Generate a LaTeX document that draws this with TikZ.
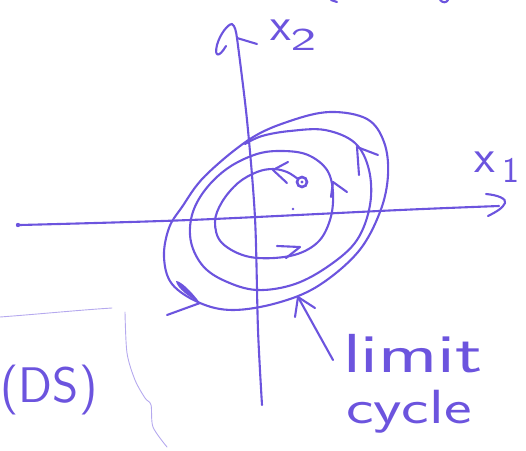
\documentclass[tikz,border=0pt]{standalone}
\usepackage{graphicx}
\definecolor{ink}{RGB}{108,84,222}
\begin{document}
\begin{tikzpicture}[x=1pt,y=-1pt,
  pen/.style={draw=ink,line width=2.1pt,line cap=round,line join=round},
  faint/.style={draw=ink,line width=0.9pt,draw opacity=0.5,line cap=round,line join=round},
  hand/.style={text=ink,inner sep=0pt,outer sep=0pt}]
\useasboundingbox (0,0) rectangle (526,450);
% ---- axes
\coordinate (O) at (18,225);
\coordinate (xtip) at (505,203);
\coordinate (ytip) at (232,24);
\draw[pen] plot[smooth,tension=0.5] coordinates {(20,225) (190,220) (400,210) (499,206)};
\fill[ink] (O) circle (2.2);
\draw[pen] (486,194) .. controls (498,195) and (507,199) .. (xtip) .. controls (503,208) and (496,212) .. (488,216);
\draw[pen] plot[smooth,tension=0.5] coordinates {(262,405) (258,330) (255,218) (247,120) (237,38)};
\draw[pen] (226,46) .. controls (219,58) and (214,57) .. (217,45) .. controls (220,34) and (228,24) .. (ytip) .. controls (235,26) and (236,31) .. (237,38);
\draw[pen] (237,38) -- (257,44);
% ---- labels of axes
\node[hand,anchor=base west,font=\sffamily\fontsize{48}{48}\selectfont] (x2) at (270,40)
  {x\raisebox{-10pt}{\fontsize{32}{32}\selectfont\scalebox{1.7}[1]{2}}};
\node[hand,anchor=base west,font=\sffamily\fontsize{48}{48}\selectfont] (x1) at (474,172)
  {x\hspace{8pt}\raisebox{-10pt}{\fontsize{36}{36}\selectfont 1}};
% ---- limit cycle (outer loop)
\draw[pen] plot[smooth cycle,tension=0.6] coordinates {(250,139) (290,121) (330,112) (367,119) (384,142) (388,175) (380,212) (358,252) (318,286) (277,303) (233,310) (200,303) (172,284) (164,257) (169,228) (182,207) (205,176)};
% ---- spiral from the fixed point
\draw[pen] plot[smooth,tension=0.6] coordinates {(298,179) (287,172) (273,169) (257,172) (238,183) (222,202) (215,222) (222,243) (250,257) (290,256) (317,243) (330,220) (333,193) (327,170) (308,155) (283,151) (257,154) (228,168) (205,190) (192,215) (191,242) (203,266) (225,281) (257,290) (295,284) (330,265) (357,240) (370,205) (369,170) (355,143) (325,130) (290,131) (262,136) (245,144)};
% fixed point and small dot
\coordinate (fp) at (302,182);
\draw[ink,line width=2.6pt] (fp) circle (5);
\fill[ink] (fp) circle (1.6);
\fill[ink] (293,209) circle (1.3);
% ---- arrowheads on the trajectories
\draw[pen] (288,162) -- (273,170) -- (287,183);
\draw[pen] (347,192) -- (333,182) -- (331,197);
\draw[pen] (277,246) -- (300,247) -- (286,258);
\draw[pen] (378,155) -- (357,147) -- (359,175);
\fill[ink] (200,303) .. controls (192,292) and (181,281) .. (176,281) .. controls (177,288) and (189,297) .. (200,303);
\draw[pen] (200,303) -- (167,315);
% ---- limit cycle label and pointer
\node[hand,anchor=base west,xscale=1.45,font=\sffamily\fontsize{55}{55}\selectfont] (lim) at (343,372) {limit};
\node[hand,anchor=base west,xscale=1.37,font=\sffamily\fontsize{48}{48}\selectfont] (cyc) at (346,423) {cycle};
\coordinate (ptail) at (333,360);
\coordinate (phead) at (298,297);
\draw[pen] (ptail) -- (phead);
\draw[pen] (295,317) -- (phead) -- (315,308);
% ---- (DS) and faint lines on the left
\node[hand,anchor=base,font=\sffamily\fontsize{50}{50}\selectfont] (ds) at (49,402) {(DS)};
\draw[faint] (0,317) .. controls (40,314) and (80,310) .. (112,308);
\draw[faint] plot[smooth] coordinates {(125,312) (127,353) (135,380) (145,398) (151,405) (153,427) (167,447)};
% ---- marks cut at the top edge
\draw[pen] (331,0) -- (337,2);
\draw[pen] (440,0) .. controls (443,3) and (446,3) .. (448,0);
\end{tikzpicture}
\end{document}
